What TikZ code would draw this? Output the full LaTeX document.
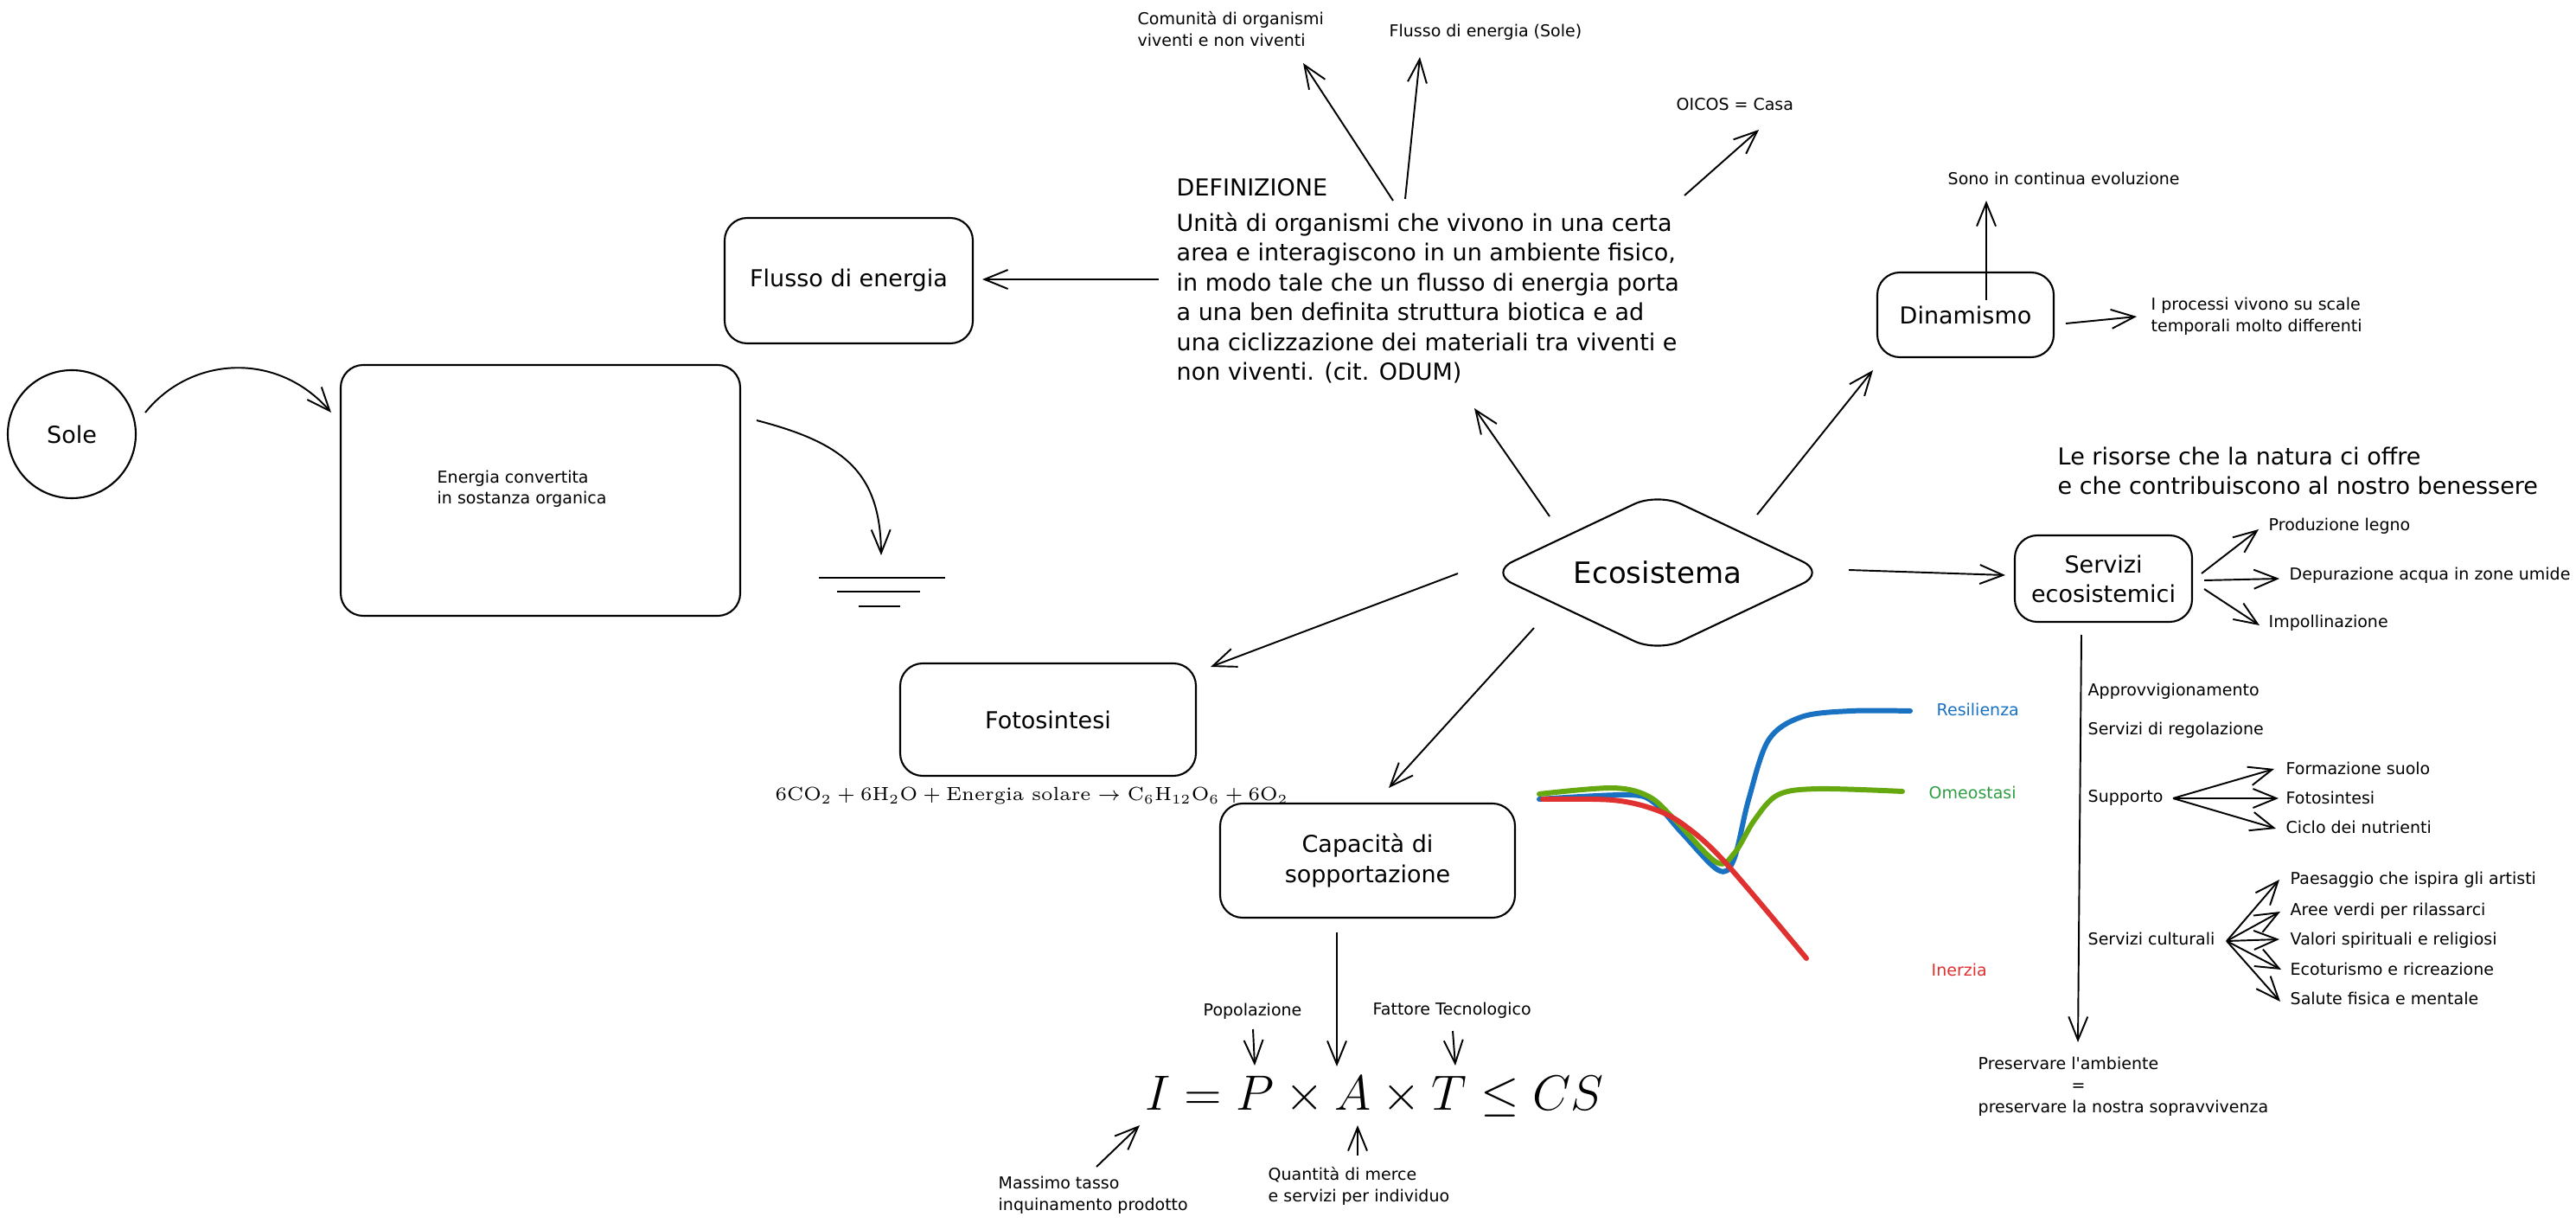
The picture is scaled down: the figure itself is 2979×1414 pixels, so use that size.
\RequirePackage{fix-cm}
\documentclass[tikz,border=0pt]{standalone}
\usepackage{fontspec}
\newfontfamily\hand{DejaVu Sans}
\usetikzlibrary{arrows.meta,shapes.geometric,calc}
\definecolor{exblue}{HTML}{1971C2}
\definecolor{exgreen}{HTML}{2F9E44}
\definecolor{exlime}{HTML}{66A80F}
\definecolor{exred}{HTML}{E03131}
\tikzset{
  txt/.style={font=\hand\fontsize{5.406pt}{7.113pt}\selectfont, inner sep=0pt, anchor=base west, align=left},
  big/.style={font=\hand\fontsize{7.682pt}{9.816pt}\selectfont, inner sep=0pt},
  box/.style={draw, rounded corners=2.6mm, line width=0.6pt, big, align=center},
  arr/.style={-{Straight Barb[length=2.7mm,width=2.2mm]}, line width=0.55pt},
  curve/.style={line width=1.7pt, line cap=round, line join=round},
}
\begin{document}
\begin{tikzpicture}[x=0.1mm,y=-0.1mm]
\useasboundingbox (0,0) rectangle (2979,1414);
\fill[white] (0,0) rectangle (2979,1414);

% ---------- left part ----------
\node[circle, draw, line width=0.6pt, minimum size=14.8mm, big] (sole) at (83,502) {Sole};
\node[box, minimum width=46.2mm, minimum height=29mm] (conv) at (625,567) {};
% multi-line texts: base anchor = baseline of last line
\node[txt] (convtxt) at (505,583) {Energia convertita\\in sostanza organica};
\node[box, minimum width=28.7mm, minimum height=14.5mm] (flusso) at (981.5,324.5) {Flusso di energia};

\coordinate (soleout) at (168,477);
\coordinate (convin) at (383,477);
\draw[arr] (soleout) .. controls (220,412) and (320,405) .. (convin);

\coordinate (convout) at (875,486);
\coordinate (ground) at (1019,642);
\draw[arr] (convout) .. controls (975,512) and (1018,545) .. (ground);
\draw[line width=0.7pt] (947,668) -- (1093,668);
\draw[line width=0.6pt] (968,684) -- (1064,684);
\draw[line width=0.6pt] (993,701) -- (1041,701);

% ---------- definition ----------
\node[big, anchor=base west] (defh) at (1360,227) {DEFINIZIONE};
\node[big, anchor=base west, align=left] (def) at (1360,440) {Unità di organismi che vivono in una certa\\area e interagiscono in un ambiente fisico,\\in modo tale che un flusso di energia porta\\a una ben definita struttura biotica e ad\\una ciclizzazione dei materiali tra viventi e\\non viventi. (cit. ODUM)};
\node[txt] (comunita) at (1315,54) {Comunità di organismi\\viventi e non viventi};
\node[txt] (flussosole) at (1606,43) {Flusso di energia (Sole)};
\node[txt] (oicos) at (1938,128) {OICOS = Casa};

\coordinate (defl) at (1340,323);
\coordinate (flussoin) at (1136,323);
\draw[arr] (defl) -- (flussoin);
\coordinate (deft1) at (1611,232);
\coordinate (comin) at (1507,73);
\draw[arr] (deft1) -- (comin);
\coordinate (deft2) at (1625,230);
\coordinate (fsin) at (1642,66);
\draw[arr] (deft2) -- (fsin);
\coordinate (deft3) at (1948,226);
\coordinate (oicosin) at (2034,150);
\draw[arr] (deft3) -- (oicosin);

% ---------- ecosistema ----------
\node[diamond, draw, aspect=2, minimum width=39mm, minimum height=18.5mm, rounded corners=3mm, line width=0.6pt, inner sep=0pt, font=\hand\fontsize{9.674pt}{12pt}\selectfont] (eco) at (1917,662) {Ecosistema};

\coordinate (ecoA) at (1792,597);
\coordinate (defin) at (1705,472);
\draw[arr] (ecoA) -- (defin);
\coordinate (ecoB) at (2032,595);
\coordinate (dinin) at (2166,428);
\draw[arr] (ecoB) -- (dinin);
\coordinate (ecoC) at (2138,659);
\coordinate (servin) at (2319,665);
\draw[arr] (ecoC) -- (servin);
\coordinate (ecoD) at (1686,663);
\coordinate (fotoin) at (1400,771);
\draw[arr] (ecoD) -- (fotoin);
\coordinate (ecoE) at (1774,726);
\coordinate (capin) at (1606,911);
\draw[arr] (ecoE) -- (capin);

% ---------- fotosintesi / capacita ----------
\node[box, minimum width=34.2mm, minimum height=13mm] (foto) at (1212,832) {Fotosintesi};
\node[anchor=base west, inner sep=0pt, font=\fontsize{6.26pt}{7.5pt}\selectfont] (chem) at (896,926)
  {$6\mathrm{CO_2} + 6\mathrm{H_2O} + \mathrm{Energia\ solare} \rightarrow \mathrm{C_6H_{12}O_6} + 6\mathrm{O_2}$};
\node[box, minimum width=34.1mm, minimum height=13.2mm, font=\hand\fontsize{7.682pt}{9.96pt}\selectfont] (cap) at (1581.5,995) {Capacità di\\sopportazione};

\node[anchor=base west, inner sep=0pt, font=\fontsize{16.3pt}{20pt}\selectfont] (ipat) at (1324,1283) {$I = P \times A \times T \leq CS$};
\node[txt] (popol) at (1391,1174) {Popolazione};
\node[txt] (fattore) at (1587,1173) {Fattore Tecnologico};
\node[txt] (massimo) at (1154,1399) {Massimo tasso\\inquinamento prodotto};
\node[txt] (quantita) at (1466,1389) {Quantità di merce\\e servizi per individuo};

\coordinate (capout) at (1546,1078);
\coordinate (aIn) at (1546,1233);
\draw[arr] (capout) -- (aIn);
\coordinate (popout) at (1449,1190);
\coordinate (pIn) at (1451,1232);
\draw[arr] (popout) -- (pIn);
\coordinate (fatout) at (1680,1192);
\coordinate (tIn) at (1683,1232);
\draw[arr] (fatout) -- (tIn);
\coordinate (masout) at (1268,1349);
\coordinate (iIn) at (1318,1301);
\draw[arr] (masout) -- (iIn);
\coordinate (quaout) at (1570,1336);
\coordinate (aIn2) at (1570,1301);
\draw[arr] (quaout) -- (aIn2);

% ---------- curves ----------
\draw[curve, exblue] plot[smooth, tension=0.55] coordinates {(1780,924) (1884,919) (1914,929) (1945,963) (1987,1006) (2005,994) (2022,925) (2045,856) (2083,829) (2140,822) (2209,822)};
\draw[curve, exlime] plot[smooth, tension=0.55] coordinates {(1780,918) (1865,911) (1907,921) (1937,948) (1985,997) (2006,986) (2029,948) (2056,919) (2102,912) (2200,915)};
\draw[curve, exred] plot[smooth, tension=0.55] coordinates {(1784,924) (1865,925) (1914,936) (1949,955) (1995,997) (2089,1108)};
\node[txt, text=exblue] (resil) at (2239,827) {Resilienza};
\node[txt, text=exgreen] (omeo) at (2230,923) {Omeostasi};
\node[txt, text=exred] (inerzia) at (2233,1128) {Inerzia};

% ---------- dinamismo ----------
\node[box, minimum width=20.4mm, minimum height=9.8mm] (dinam) at (2273,364) {Dinamismo};
\node[txt] (sono) at (2252,214) {Sono in continua evoluzione};
\node[txt] (processi) at (2487,384) {I processi vivono su scale\\temporali molto differenti};
\coordinate (dinup) at (2297,347);
\coordinate (sonoin) at (2297,232);
\draw[arr] (dinup) -- (sonoin);
\coordinate (dinr) at (2389,374);
\coordinate (procin) at (2471,366);
\draw[arr] (dinr) -- (procin);

% ---------- servizi ----------
\node[big, anchor=base west, align=left] (risorse) at (2379,572) {Le risorse che la natura ci offre\\e che contribuiscono al nostro benessere};
\node[box, minimum width=20.5mm, minimum height=10mm, font=\hand\fontsize{7.682pt}{9.67pt}\selectfont] (serv) at (2432.5,669) {Servizi\\ecosistemici};
\node[txt] (prod) at (2623,614) {Produzione legno};
\node[txt] (depur) at (2647,671) {Depurazione acqua in zone umide};
\node[txt] (impoll) at (2623,726) {Impollinazione};
\coordinate (sv1) at (2546,663);
\coordinate (prodin) at (2612,612);
\draw[arr] (sv1) -- (prodin);
\coordinate (sv2) at (2549,671);
\coordinate (depin) at (2636,669);
\draw[arr] (sv2) -- (depin);
\coordinate (sv3) at (2549,681);
\coordinate (impin) at (2613,723);
\draw[arr] (sv3) -- (impin);

\coordinate (svdown) at (2407,734);
\coordinate (presin) at (2403,1205);
\draw[arr] (svdown) -- (presin);

\node[txt] (approv) at (2414,805) {Approvvigionamento};
\node[txt] (regol) at (2414,849) {Servizi di regolazione};
\node[txt] (supp) at (2414,927) {Supporto};
\node[txt] (formaz) at (2643,895) {Formazione suolo};
\node[txt] (foto2) at (2643,929) {Fotosintesi};
\node[txt] (ciclo) at (2643,963) {Ciclo dei nutrienti};
\coordinate (suppout) at (2513,923);
\coordinate (formin) at (2630,889);
\coordinate (fotoin2) at (2635,923);
\coordinate (cicloin) at (2632,958);
\draw[arr] (suppout) -- (formin);
\draw[arr] (suppout) -- (fotoin2);
\draw[arr] (suppout) -- (cicloin);

\node[txt] (cult) at (2414,1092) {Servizi culturali};
\node[txt] (paes) at (2648,1022) {Paesaggio che ispira gli artisti};
\node[txt] (aree) at (2648,1058) {Aree verdi per rilassarci};
\node[txt] (valori) at (2648,1092) {Valori spirituali e religiosi};
\node[txt] (ecotur) at (2648,1127) {Ecoturismo e ricreazione};
\node[txt] (salute) at (2648,1161) {Salute fisica e mentale};
\coordinate (cultout) at (2575,1088);
\coordinate (paesin) at (2636,1017);
\coordinate (areein) at (2637,1054);
\coordinate (valin) at (2636,1086);
\coordinate (ecoin) at (2638,1121);
\coordinate (salin) at (2637,1158);
\foreach \t in {paesin,areein,valin,ecoin,salin} \draw[arr] (cultout) -- (\t);

\node[txt] (preserv) at (2287,1286) {Preservare l'ambiente\\\hspace*{10.8mm}=\\preservare la nostra sopravvivenza};
\end{tikzpicture}
\end{document}
